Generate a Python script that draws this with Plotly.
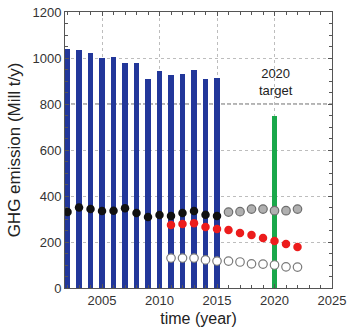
import plotly.graph_objects as go

bar_years = list(range(2002, 2016))
bar_values = [1040, 1035, 1020, 1000, 1003, 978, 978, 908, 943, 926, 930, 948, 910, 913]

target_year = [2020]
target_value = [750]

black_years = list(range(2002, 2016))
black_values = [330, 350, 343, 335, 336, 347, 326, 309, 317, 313, 326, 335, 318, 313]

gray_years = list(range(2016, 2023))
gray_values = [330, 332, 343, 343, 336, 336, 343]

red_years = list(range(2011, 2023))
red_values = [274, 278, 282, 265, 257, 252, 239, 230, 217, 204, 191, 178]

white_years = list(range(2011, 2023))
white_values = [130, 130, 130, 122, 117, 117, 113, 105, 104, 100, 92, 91]

x_ticks = [2005, 2010, 2015, 2020, 2025]
y_ticks = [0, 200, 400, 600, 800, 1000, 1200]

FONT = "Liberation Sans, Arial, sans-serif"

fig = go.Figure()
fig.add_trace(go.Bar(x=bar_years, y=bar_values, width=0.47,
                     marker=dict(color="#22379a", line=dict(width=0)), showlegend=False))
fig.add_trace(go.Bar(x=target_year, y=target_value, width=0.47,
                     marker=dict(color="#19a84a", line=dict(width=0)), showlegend=False))
fig.add_trace(go.Scatter(x=black_years, y=black_values, mode="markers",
                         marker=dict(size=8.5, color="#111111", line=dict(width=0)), showlegend=False))
fig.add_trace(go.Scatter(x=gray_years, y=gray_values, mode="markers",
                         marker=dict(size=8.5, color="#b0b0b0", line=dict(width=1.2, color="#6e6e6e")), showlegend=False))
fig.add_trace(go.Scatter(x=red_years, y=red_values, mode="markers",
                         marker=dict(size=8.5, color="#ec1c1c", line=dict(width=0)), showlegend=False))
fig.add_trace(go.Scatter(x=white_years, y=white_values, mode="markers",
                         marker=dict(size=8.5, color="#ffffff", line=dict(width=1.2, color="#7a7a7a")), showlegend=False))

fig.add_shape(type="line", xref="paper", x0=0, x1=1, yref="y", y0=800, y1=800,
              line=dict(color="#666666", width=1, dash="4px,2px"), layer="below")

fig.add_annotation(x=2020.15, y=895, text="2020<br>target", showarrow=False,
                   font=dict(family=FONT, size=13, color="#222222"), align="center")

fig.update_layout(
    width=350, height=331,
    margin=dict(l=65, r=18, t=12, b=43),
    paper_bgcolor="white", plot_bgcolor="white",
    font=dict(family=FONT, color="#333333"),
    bargap=0,
)
fig.update_xaxes(
    range=[2001.78, 2025], tickvals=x_ticks, ticktext=[str(v) for v in x_ticks],
    showline=True, linecolor="#555555", linewidth=1, mirror="ticks",
    ticks="inside", ticklen=4, tickcolor="#555555",
    minor=dict(dtick=1, tick0=2000, ticks="inside", ticklen=3, tickcolor="#555555", showgrid=False),
    showgrid=True, gridcolor="#bdbdbd", griddash="dot", gridwidth=1,
    tickfont=dict(size=13, color="#333333"),
    title=dict(text="time (year)", font=dict(size=16, color="#222222"), standoff=6),
    zeroline=False, automargin=False,
)
fig.update_yaxes(
    range=[0, 1200], tickvals=y_ticks,
    showline=True, linecolor="#555555", linewidth=1, mirror="ticks",
    ticks="inside", ticklen=4, tickcolor="#555555",
    minor=dict(dtick=50, tick0=0, ticks="inside", ticklen=3, tickcolor="#555555", showgrid=False),
    showgrid=True, gridcolor="#bdbdbd", griddash="dot", gridwidth=1,
    tickfont=dict(size=13, color="#333333"),
    title=dict(text="GHG emission (Mill t/y)", font=dict(size=17, color="#222222"), standoff=7),
    zeroline=False, automargin=False,
)

fig.write_html("out.html")
